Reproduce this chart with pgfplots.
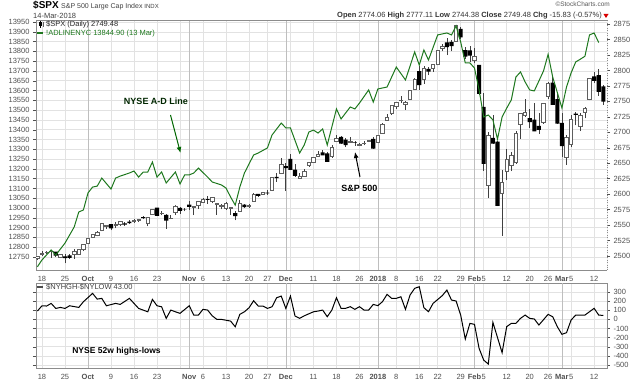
\documentclass[border=0pt]{standalone}
\usepackage{pgfplots}
\pgfplotsset{compat=1.18}
\usepackage{pgfplotstable}
\usepackage{fontspec}
\setmainfont{Liberation Sans}
\usetikzlibrary{arrows.meta}
\definecolor{adgreen}{RGB}{30,120,30}
\definecolor{gridc}{RGB}{226,226,226}
\definecolor{gridm}{RGB}{190,190,190}
\definecolor{tickc}{RGB}{80,80,80}
\definecolor{hollowc}{RGB}{95,95,95}

\pgfplotstableread{
i o h l c
0 2495.67 2500.23 2493.16 2500.23
1 2502.51 2508.32 2499.92 2503.87
2 2506.29 2507.84 2503.19 2506.65
3 2506.84 2508.85 2496.67 2508.24
4 2507.16 2507.16 2499.00 2500.60
5 2497.26 2503.47 2496.54 2502.22
6 2499.39 2502.54 2488.03 2496.66
7 2501.04 2503.51 2495.12 2496.84
8 2503.30 2511.75 2495.91 2507.04
9 2503.41 2510.81 2502.93 2510.06
10 2510.42 2519.44 2507.99 2519.36
11 2521.20 2529.23 2520.40 2529.12
12 2530.34 2535.13 2528.85 2534.58
13 2533.48 2540.53 2531.80 2537.74
14 2540.86 2552.51 2540.02 2552.07
15 2547.44 2549.41 2543.79 2549.33
16 2551.39 2551.82 2541.60 2544.73
17 2549.99 2555.23 2544.86 2550.64
18 2550.62 2555.24 2547.95 2555.24
19 2552.88 2555.33 2548.31 2550.93
20 2555.66 2557.65 2552.09 2553.17
21 2555.57 2559.47 2553.83 2557.64
22 2557.17 2559.71 2554.69 2559.36
23 2562.87 2564.11 2559.67 2561.26
24 2553.39 2562.36 2547.92 2562.10
25 2567.56 2575.44 2567.56 2575.21
26 2578.08 2578.29 2564.33 2564.98
27 2568.66 2572.18 2565.58 2569.13
28 2566.52 2567.40 2544.00 2557.15
29 2560.08 2567.07 2559.80 2560.40
30 2570.26 2582.98 2565.94 2581.07
31 2577.75 2580.03 2568.25 2572.83
32 2575.99 2578.29 2572.15 2575.26
33 2583.21 2588.40 2574.92 2579.36
34 2579.46 2581.11 2566.17 2579.85
35 2581.93 2588.42 2576.77 2587.84
36 2587.47 2593.38 2585.66 2591.13
37 2592.11 2597.02 2584.35 2590.64
38 2588.71 2595.47 2585.02 2594.38
39 2584.00 2586.50 2566.33 2584.62
40 2580.18 2583.81 2575.57 2582.30
41 2576.53 2587.66 2574.48 2584.84
42 2577.75 2579.66 2566.56 2578.87
43 2569.45 2572.84 2557.45 2564.62
44 2572.95 2590.09 2572.95 2585.64
45 2582.94 2583.96 2577.62 2578.85
46 2579.49 2584.64 2578.24 2582.14
47 2589.17 2601.19 2589.17 2599.03
48 2600.31 2600.94 2595.23 2597.08
49 2600.42 2604.21 2600.42 2602.42
50 2602.66 2606.41 2598.87 2601.42
51 2605.94 2627.69 2605.44 2627.04
52 2627.82 2634.89 2620.32 2626.07
53 2633.93 2657.74 2633.93 2647.58
54 2645.10 2650.62 2605.52 2642.22
55 2657.19 2665.19 2639.03 2639.44
56 2639.78 2648.72 2627.73 2629.57
57 2626.24 2634.41 2624.75 2629.27
58 2628.38 2640.99 2628.38 2636.98
59 2646.21 2651.65 2644.10 2651.50
60 2652.19 2660.33 2651.47 2659.99
61 2661.73 2669.72 2659.78 2664.11
62 2667.59 2671.88 2662.85 2662.85
63 2665.87 2668.09 2652.01 2652.01
64 2660.63 2679.63 2659.14 2675.81
65 2685.92 2694.97 2685.92 2690.16
66 2692.71 2694.44 2680.74 2681.47
67 2688.18 2691.01 2676.11 2679.25
68 2683.02 2692.64 2682.40 2684.57
69 2684.22 2685.35 2678.13 2683.34
70 2679.09 2682.74 2677.96 2680.50
71 2682.10 2685.64 2678.91 2682.62
72 2686.10 2688.04 2684.39 2687.54
73 2689.15 2692.12 2673.61 2673.61
74 2683.73 2695.89 2682.36 2695.81
75 2697.85 2714.37 2697.77 2713.06
76 2719.31 2729.29 2719.07 2723.99
77 2731.33 2743.45 2727.92 2743.15
78 2742.67 2748.51 2737.60 2747.71
79 2751.15 2759.14 2747.86 2751.29
80 2745.55 2750.80 2736.06 2748.23
81 2752.97 2767.56 2752.78 2767.56
82 2770.18 2787.85 2769.64 2786.24
83 2798.96 2807.54 2768.64 2776.42
84 2784.99 2807.04 2778.38 2802.56
85 2802.40 2805.83 2792.56 2798.03
86 2802.60 2810.33 2798.08 2810.30
87 2809.16 2833.03 2808.12 2832.97
88 2835.05 2842.24 2830.59 2839.13
89 2845.42 2852.97 2824.81 2837.54
90 2846.24 2848.56 2830.94 2839.25
91 2847.48 2872.87 2846.18 2872.87
92 2867.23 2870.62 2851.48 2853.53
93 2832.74 2837.75 2818.27 2822.43
94 2832.41 2839.26 2813.04 2823.81
95 2816.45 2835.96 2812.70 2821.98
96 2808.92 2808.92 2759.97 2762.13
97 2741.06 2763.39 2638.17 2648.94
98 2614.78 2701.04 2593.07 2695.14
99 2690.95 2727.67 2681.33 2681.66
100 2685.01 2685.27 2580.56 2581.00
101 2601.78 2638.67 2532.69 2619.55
102 2636.75 2672.61 2622.45 2656.00
103 2646.27 2668.84 2637.08 2662.94
104 2651.21 2702.10 2648.87 2698.63
105 2713.46 2731.51 2689.82 2731.20
106 2727.14 2754.42 2725.11 2732.22
107 2722.99 2737.60 2706.76 2716.26
108 2720.53 2747.75 2701.29 2701.33
109 2710.42 2731.26 2697.77 2703.96
110 2715.80 2747.76 2713.74 2747.30
111 2757.37 2780.64 2753.78 2779.60
112 2780.45 2789.15 2744.22 2744.28
113 2753.78 2761.52 2713.54 2713.83
114 2715.22 2730.89 2659.65 2677.67
115 2658.89 2696.25 2647.32 2691.25
116 2681.06 2728.09 2675.75 2720.94
117 2730.18 2732.08 2711.26 2728.12
118 2710.18 2730.60 2701.74 2726.80
119 2732.75 2740.45 2722.65 2738.97
120 2752.91 2786.57 2751.54 2786.57
121 2790.54 2796.98 2779.26 2783.02
122 2792.31 2801.90 2758.68 2765.31
123 2774.06 2777.11 2744.38 2749.48
}\spx

\pgfplotstableread{
x y
0 12700
1 12735
3 12786
4 12760
6 12821
8 12903
9 12980
10 12990
11 13077
12 13107
13 13112
14 13153
16 13097
17 13153
18 13163
20 13179
21 13189
22 13158
23 13184
24 13184
25 13235
26 13158
27 13184
28 13128
30 13184
31 13123
32 13169
33 13169
34 13179
35 13204
37 13158
38 13133
40 13118
41 13102
42 13056
43 13015
44 13107
45 13179
47 13271
48 13281
50 13307
51 13373
53 13434
54 13409
55 13409
57 13281
58 13322
59 13388
60 13398
61 13383
62 13404
63 13322
65 13506
66 13455
68 13516
69 13506
70 13536
72 13603
73 13541
74 13608
76 13618
78 13720
80 13654
82 13797
83 13730
84 13807
85 13756
87 13884
89 13894
90 13884
91 13930
92 13848
93 13741
94 13741
95 13715
96 13603
97 13465
98 13475
99 13450
100 13352
101 13465
102 13510
103 13552
104 13669
105 13695
106 13644
107 13603
108 13598
110 13700
111 13785
112 13669
113 13590
114 13511
115 13618
116 13690
117 13746
118 13760
119 13775
120 13884
121 13894
122 13845
}\adl

\pgfplotstableread{
x y
0 91
1 149
2 146
3 175
4 120
5 131
6 120
7 149
9 131
10 193
12 285
13 222
14 230
15 149
17 175
18 164
20 230
22 120
24 83
25 219
26 149
27 138
28 11
29 102
30 83
31 66
33 149
34 47
35 47
36 110
37 102
38 39
39 0
40 0
42 -19
43 -81
44 55
45 83
46 127
47 204
48 146
49 146
50 120
51 138
52 237
53 255
54 120
55 255
56 36
57 11
58 39
60 83
61 91
62 102
63 29
64 102
65 237
66 121
67 121
68 139
69 110
70 139
71 102
72 102
73 164
74 150
75 194
76 274
77 230
78 230
79 248
80 110
81 267
82 340
83 358
84 128
85 84
86 175
88 260
89 321
90 212
91 201
92 47
93 -216
94 -44
95 -55
96 -318
97 -446
98 -490
99 -33
101 -365
102 -80
103 -44
104 -44
105 11
106 47
107 11
108 4
109 -62
111 55
112 29
113 -80
114 -164
115 -146
116 -7
117 47
119 47
120 84
121 121
122 47
123 43
}\hl

\begin{document}
\begin{tikzpicture}
\path[use as bounding box] (0bp,0bp) rectangle (640bp,380bp);
\pgfplotsset{
  tickfont/.style={font=\fontsize{7.5bp}{8bp}\selectfont, text=tickc},
  common/.style={anchor=south west, scale only axis, width=571bp,
    xmin=-0.3, xmax=123.8, scaled y ticks=false, scaled x ticks=false,
    /pgf/number format/1000 sep={}, /pgf/number format/assume math mode=true,
    tick align=outside, major tick length=3bp,
    tick style={tickc, line width=0.4bp},
    xtick style={draw=none},
    yticklabel style={tickfont}, xticklabel style={tickfont},
    axis line style={black!45, line width=0.5bp}},
  toppanel/.style={common, at={(36bp,110bp)}, height=250bp},
  xgrid/.style={
    xtick={1,6,11,16,21,26,31,33,36,41,46,50,54,55,60,65,70,74,78,83,87,92,95,97,102,107,111,114,116,121},
    xticklabels={{18},{25},{\textbf{Oct}},{9},{16},{23},{},{\textbf{Nov}},{6},{13},{20},{27},{\textbf{Dec}},{},{11},{18},{26},{\textbf{2018}},{8},{16},{22},{29},{\textbf{Feb}},{5},{12},{20},{26},{\textbf{Mar}},{5},{12}},
    xmajorgrids, ymajorgrids, grid style={gridc, line width=0.5bp},
    extra x ticks={11,33,54,74,95,114}, extra x tick labels={},
    extra x tick style={major grid style={gridm, line width=0.6bp}, tick style={draw=none}}},
}
% top panel: grid and left axis
\begin{axis}[toppanel, xgrid, ymin=12683.6, ymax=13960.2,
  ytick={12750,12800,...,13950}, yticklabel pos=left, axis y line*=left]
\end{axis}
\begin{axis}[toppanel, ymin=12683.6, ymax=13960.2, hide axis]
\draw[black!45, line width=0.5bp] (rel axis cs:0,0) rectangle (rel axis cs:1,1);
\end{axis}
% wicks + right axis
\begin{axis}[toppanel, ymin=2477.4, ymax=2881.5, axis x line=none, axis y line*=right,
  ytick={2500,2525,...,2875}, axis line style={black!45, dotted, line width=0.5bp}]
\addplot[draw=none, mark=none, error bars/.cd, y dir=plus, y explicit, error mark=none,
  error bar style={draw=black!75, line width=0.7bp, solid}]
  table[x=i, y=l, y error plus expr={\thisrow{h}-\thisrow{l}}] {\spx};
\end{axis}
% candle bodies
\begin{axis}[toppanel, ymin=2477.4, ymax=2881.5, hide axis, ybar stacked, bar shift=0pt]
\addplot[draw=none, fill=none, bar width=3.4bp] table[x=i, y expr={min(\thisrow{o},\thisrow{c})}] {\spx};
\addplot[draw=hollowc, fill=white, line width=0.7bp, bar width=3.4bp] table[x=i, y expr={max(\thisrow{c}-\thisrow{o},0)}] {\spx};
\addplot[draw=none, fill=black, bar width=4.1bp] table[x=i, y expr={max(\thisrow{o}-\thisrow{c},0)}] {\spx};
\end{axis}
% A-D line
\begin{axis}[toppanel, ymin=12683.6, ymax=13960.2, hide axis]
\addplot[adgreen, line width=1bp] table {\adl};
\end{axis}
% bottom panel
\begin{axis}[common, at={(36bp,12bp)}, height=85bp, xgrid,
  ymin=-532.9, ymax=398.6, ytick={-500,-400,...,300}, yticklabel pos=right]
\addplot[black, line width=1bp] table {\hl};
\end{axis}

% header
\node[anchor=base west, inner sep=0pt, font=\fontsize{10bp}{11bp}\selectfont\bfseries] at (33bp,371.5bp) {\$SPX};
\node[anchor=base west, inner sep=0pt, font=\fontsize{7bp}{8bp}\selectfont, text=black!75] at (61bp,371.5bp) {S\&P 500 Large Cap Index \fontsize{6bp}{7bp}\selectfont INDX};
\node[anchor=base west, inner sep=0pt, font=\fontsize{7.5bp}{8bp}\selectfont, text=black!75] at (33bp,361bp) {14-Mar-2018};
\node[anchor=base east, inner sep=0pt, font=\fontsize{6.5bp}{7bp}\selectfont, text=black!65] at (610bp,373bp) {©StockCharts.com};
\node[anchor=base east, inner sep=0pt, font=\fontsize{7.5bp}{8bp}\selectfont, text=black!80] at (602bp,362bp) {\textbf{Open} 2774.06 \textbf{High} 2777.11 \textbf{Low} 2744.38 \textbf{Close} 2749.48 \textbf{Chg} -15.83 (-0.57\%)};
\fill[red!85!black] (603.5bp,366bp) -- (608.5bp,366bp) -- (606bp,362bp) -- cycle;

% legends
\draw[black, line width=0.5bp] (40bp,359bp) -- (40bp,352bp);
\fill[black] (38.5bp,354bp) rectangle (41.5bp,357.5bp);
\draw[hollowc, line width=0.5bp] (43bp,358bp) -- (43bp,353bp);
\node[anchor=base west, inner sep=0pt, font=\fontsize{7.5bp}{8bp}\selectfont, text=black!85] at (46bp,353.5bp) {\$SPX (Daily) 2749.48};
\draw[adgreen, line width=1.2bp] (37bp,347bp) -- (43bp,347bp);
\node[anchor=base west, inner sep=0pt, font=\fontsize{7.5bp}{8bp}\selectfont, text=adgreen] at (46bp,344.5bp) {!ADLINENYC 13844.90 (13 Mar)};
\draw[black!70, line width=1.2bp] (37bp,93bp) -- (43bp,93bp);
\node[anchor=base west, inner sep=0pt, font=\fontsize{7.5bp}{8bp}\selectfont, text=black!75] at (46bp,90.5bp) {\$NYHGH-\$NYLOW 43.00};

% annotations
\node[font=\fontsize{9bp}{10bp}\selectfont\bfseries, text=black!85!green] at (156bp,279bp) {NYSE A-D Line};
\draw[black!60!green, line width=1bp, -{Latex[length=6bp,width=5bp]}] (170.5bp,265bp) -- (180.5bp,227bp);
\node[font=\fontsize{9bp}{10bp}\selectfont\bfseries] at (359.5bp,192bp) {S\&P 500};
\draw[black, line width=1bp, -{Latex[length=6bp,width=5bp]}] (360bp,203bp) -- (355bp,228bp);
\node[font=\fontsize{8.5bp}{10bp}\selectfont\bfseries] at (116.5bp,29bp) {NYSE 52w highs-lows};
\end{tikzpicture}
\end{document}
